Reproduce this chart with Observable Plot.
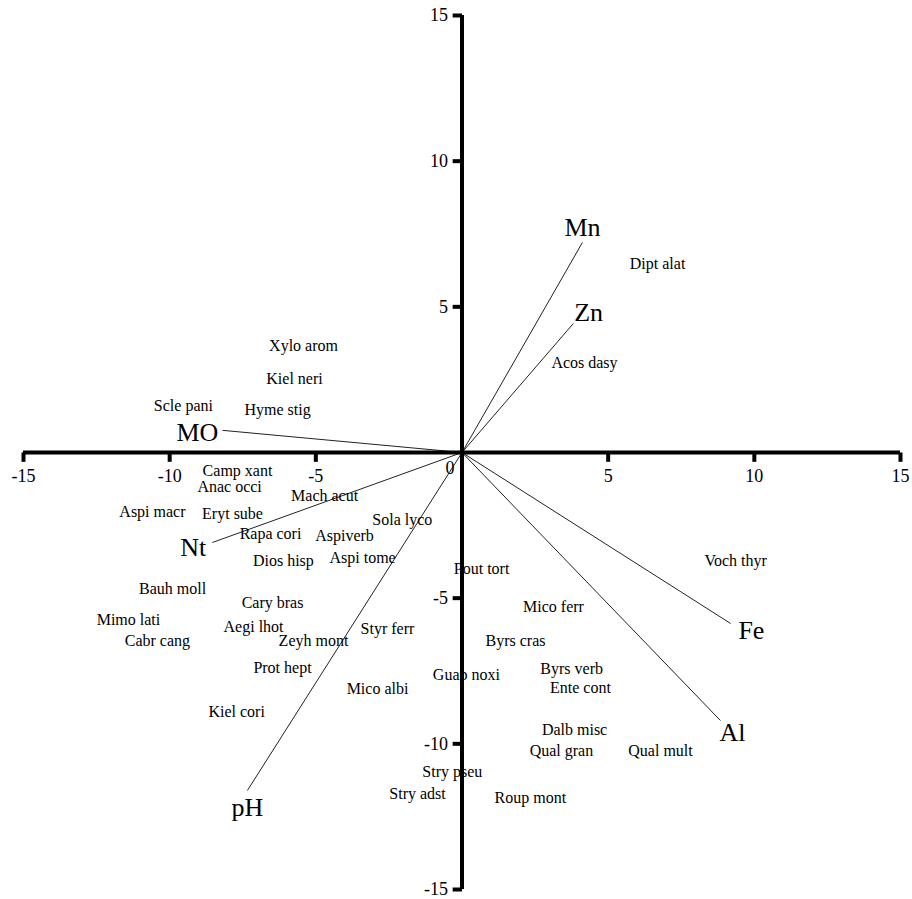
<!DOCTYPE html>
<html>
<head>
<meta charset="utf-8">
<script src="https://cdn.jsdelivr.net/npm/d3@7"></script>
<script src="https://cdn.jsdelivr.net/npm/@observablehq/plot@0.6"></script>
<style>
  html, body { margin: 0; padding: 0; background: #fff; }
  #chart svg { display: block; }
</style>
</head>
<body>
<div id="chart"></div>
<script>
// Tick values
const xTicks = [-15, -10, -5, 5, 10, 15];
const yTicks = [-15, -10, -5, 5, 10, 15];

// Species scores
const speciesNames = [
  "Xylo arom", "Kiel neri", "Scle pani", "Hyme stig", "Camp xant", "Anac occi",
  "Mach acut", "Aspi macr", "Eryt sube", "Sola lyco", "Rapa cori", "Aspiverb",
  "Dios hisp", "Aspi tome", "Bauh moll", "Cary bras", "Mimo lati", "Aegi lhot",
  "Styr ferr", "Cabr cang", "Zeyh mont", "Prot hept", "Mico albi", "Kiel cori",
  "Voch thyr", "Pout tort", "Mico ferr", "Byrs cras", "Guap noxi", "Byrs verb",
  "Ente cont", "Dalb misc", "Qual gran", "Qual mult", "Stry pseu", "Stry adst",
  "Roup mont", "Dipt alat", "Acos dasy"
];
const speciesX = [
  -5.42, -5.73, -9.53, -6.31, -7.68, -7.95,
  -4.70, -10.59, -7.85, -2.04, -6.55, -4.02,
  -6.11, -3.40, -9.90, -6.48, -11.41, -7.13,
  -2.55, -10.42, -5.08, -6.14, -2.89, -7.71,
  9.36, 0.67, 3.13, 1.83, 0.15, 3.75,
  4.05, 3.85, 3.40, 6.79, -0.33, -1.52,
  2.34, 6.69, 4.19
];
const speciesY = [
  3.67, 2.54, 1.61, 1.48, -0.62, -1.17,
  -1.48, -2.03, -2.09, -2.30, -2.78, -2.85,
  -3.71, -3.60, -4.67, -5.15, -5.73, -5.97,
  -6.04, -6.45, -6.45, -7.38, -8.10, -8.92,
  -3.71, -3.98, -5.29, -6.45, -7.62, -7.42,
  -8.07, -9.51, -10.23, -10.23, -10.95, -11.71,
  -11.84, 6.49, 3.06
];

// Environmental vectors (arrow tips) and their label positions
const varNames = ["MO", "Nt", "pH", "Mn", "Zn", "Fe", "Al"];
const varX = [-8.19, -8.54, -7.34, 4.12, 3.81, 9.19, 8.84];
const varY = [0.76, -3.09, -11.60, 7.21, 4.43, -5.87, -9.20];
const varLabelX = [-9.05, -9.19, -7.34, 4.12, 4.33, 9.90, 9.25];
const varLabelY = [0.69, -3.26, -12.19, 7.72, 4.81, -6.11, -9.61];

const species = speciesNames.map((n, i) => ({name: n, x: speciesX[i], y: speciesY[i]}));
const vars = varNames.map((n, i) => ({name: n, x: varX[i], y: varY[i], lx: varLabelX[i], ly: varLabelY[i]}));

const serif = "'Liberation Serif', 'Times New Roman', serif";
const tickLen = 0.32;

const chart = Plot.plot({
  width: 912,
  height: 899,
  marginLeft: 23,
  marginRight: 12,
  marginTop: 15,
  marginBottom: 10,
  x: {domain: [-15, 15], axis: null},
  y: {domain: [-15, 15], axis: null},
  style: {fontFamily: serif, background: "#fff", color: "#000"},
  marks: [
    // vectors
    Plot.link(vars, {x1: 0, y1: 0, x2: "x", y2: "y", stroke: "#222", strokeWidth: 1}),
    // main axes through origin
    Plot.ruleY([0], {stroke: "#000", strokeWidth: 4}),
    Plot.ruleX([0], {stroke: "#000", strokeWidth: 4}),
    // tick marks
    Plot.link(xTicks, {x1: d => d, x2: d => d, y1: 0, y2: -tickLen, stroke: "#000", strokeWidth: 4}),
    Plot.link(yTicks, {y1: d => d, y2: d => d, x1: 0, x2: -tickLen, stroke: "#000", strokeWidth: 4}),
    // tick labels
    Plot.text(xTicks, {x: d => d, y: 0, dy: 24, text: d => String(d), fontSize: 18, fill: "#000"}),
    Plot.text(yTicks, {x: 0, y: d => d, dx: -14, text: d => String(d), textAnchor: "end", fontSize: 18, fill: "#000"}),
    Plot.text([0], {x: 0, y: 0, dx: -12, dy: 16, text: d => String(d), fontSize: 18, fill: "#000"}),
    // species labels
    Plot.text(species, {x: "x", y: "y", text: "name", fontSize: 16, fill: "#000"}),
    // variable labels
    Plot.text(vars, {x: "lx", y: "ly", text: "name", fontSize: 26, fill: "#000"})
  ]
});

document.getElementById("chart").appendChild(chart);
</script>
</body>
</html>
